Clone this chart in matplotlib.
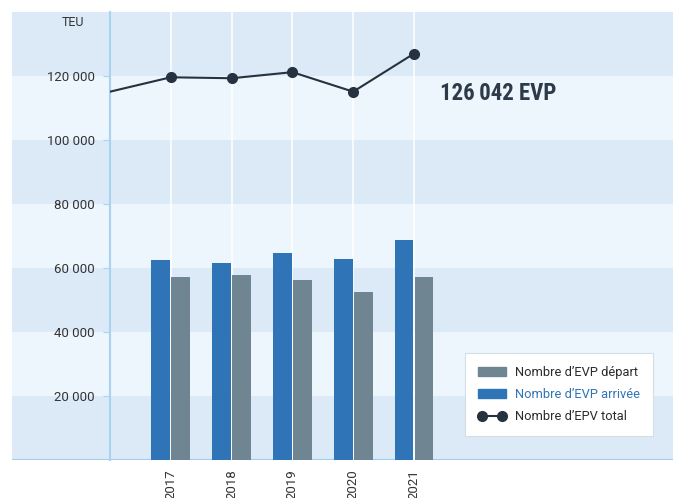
import matplotlib
matplotlib.use("Agg")
import matplotlib.pyplot as plt
from matplotlib.patches import Patch
from matplotlib.lines import Line2D
import numpy as np

years = ["2017", "2018", "2019", "2020", "2021"]
arrivee = [62400, 61700, 64700, 62700, 68900]
depart = [57200, 57700, 56400, 52400, 57200]
total_years = ["2016", "2017", "2018", "2019", "2020", "2021"]
total = [115100, 119600, 119300, 121200, 115100, 127000]
yticks = [20000, 40000, 60000, 80000, 100000, 120000]
ytick_labels = ["20 000", "40 000", "60 000", "80 000", "100 000", "120 000"]
highlight = "126\u2009042 EVP"

W, H = 673, 498
fig = plt.figure(figsize=(W / 100, H / 100), dpi=100)
fig.patch.set_facecolor("white")

ytop_px, ybot_px = 12, 460
ymax = 140000

# Background band axes (extends under tick labels)
bg = fig.add_axes([12 / W, 1 - ybot_px / H, (W - 12) / W, (ybot_px - ytop_px) / H])
bg.set_xlim(0, 1)
bg.set_ylim(0, ymax)
dark = "#dceaf8"
light = "#edf5fd"
for i in range(7):
    bg.axhspan(i * 20000, (i + 1) * 20000, color=dark if i % 2 == 0 else light, lw=0)
bg.axhline(0, color="#9fd0f0", lw=1.5)
bg.axis("off")

ax = fig.add_axes([110 / W, 1 - ybot_px / H, (W - 110) / W, (ybot_px - ytop_px) / H])
ax.patch.set_alpha(0)
x = np.arange(len(years))
xt = np.arange(len(total_years)) - 1
ax.set_xlim(-1, 8.26)
ax.set_ylim(0, ymax)

for xi in x:
    ax.axvline(xi, color="white", lw=1.2, alpha=0.9, zorder=1)

blue = "#2f74b7"
gray = "#6f8591"
dline = "#26323f"
off = 0.165
bw = 0.31
ax.bar(x - off, arrivee, width=bw, color=blue, zorder=2)
ax.bar(x + off, depart, width=bw, color=gray, zorder=2)
ax.plot(xt, total, color=dline, lw=1.5, zorder=3, clip_on=True)
ax.plot(x, total[1:], "o", color=dline, ms=7, zorder=4)

ax.set_yticks(yticks)
ax.set_yticklabels(ytick_labels, fontsize=9.5, color="#333333", family="Roboto")
ax.tick_params(axis="y", length=5, color="#a8d4f0", pad=6)
ax.set_xticks(x)
ax.set_xticklabels(years, rotation=90, fontsize=9.5, color="#333333", family="Roboto")
ax.tick_params(axis="x", length=0, pad=7)
for s in ["top", "right", "bottom"]:
    ax.spines[s].set_visible(False)
ax.spines["left"].set_color("#a8d4f0")
ax.spines["left"].set_linewidth(1.5)

fig.text(73 / W, 1 - 22 / H, "TEU", fontsize=9, color="#333333", family="Roboto",
         ha="center", va="center")
fig.text(440 / W, 1 - 94 / H, highlight, fontsize=16.5, fontweight="bold", color="#2d3a4a",
         family=["Roboto Condensed", "Roboto", "DejaVu Sans"],
         ha="left", va="center")

handles = [Patch(color=gray), Patch(color=blue),
           Line2D([0], [0], color=dline, marker="o", ms=7, lw=1.5)]
labels = ["Nombre d’EVP départ", "Nombre d’EVP arrivée", "Nombre d’EPV total"]
leg = fig.legend(handles, labels, loc="upper left", bbox_to_anchor=(465 / W, 1 - 353 / H),
                 frameon=True, fancybox=False, numpoints=2, framealpha=1,
                 borderaxespad=0,
                 handlelength=2.2, handleheight=0.65, borderpad=1.0, labelspacing=0.7,
                 handletextpad=0.65, prop={"family": "Roboto", "size": 9.3})
leg.get_frame().set_edgecolor("#d5dde5")
leg.get_frame().set_linewidth(0.8)
for i, t in enumerate(leg.get_texts()):
    t.set_color(blue if i == 1 else "#2b2b2b")

fig.savefig("out.png", dpi=100)
